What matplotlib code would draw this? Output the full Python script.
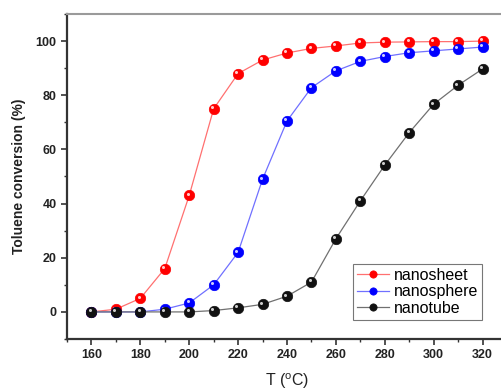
import matplotlib
matplotlib.use("Agg")
import matplotlib.pyplot as plt
import matplotlib.transforms as mtransforms
from matplotlib.ticker import MultipleLocator

plt.rcParams['font.family'] = ['Liberation Sans', 'DejaVu Sans']

T = [160, 170, 180, 190, 200, 210, 220, 230, 240, 250, 260, 270, 280, 290, 300, 310, 320]
nanosheet = [0, 1, 5, 16, 43, 75, 88, 93, 95.6, 97.3, 98.2, 99.3, 99.6, 99.7, 99.8, 99.8, 100]
nanosphere = [0, 0, 0, 1, 3.3, 10, 22, 49, 70.5, 82.8, 89, 92.5, 94.3, 95.7, 96.4, 97.1, 97.8]
nanotube = [0, 0, 0, 0, 0, 0.5, 1.5, 2.8, 5.8, 11, 27, 41, 54.2, 66.2, 76.7, 83.7, 89.7]

series = [
    ("nanosheet", nanosheet, "#ff0000", "#ff7070"),
    ("nanosphere", nanosphere, "#0000ff", "#7070ff"),
    ("nanotube", nanotube, "#111111", "#707070"),
]

fig = plt.figure(figsize=(5.01, 3.92), dpi=100)
ax = fig.add_axes([67/501, 1-339/392, 440/501, 325/392])

hl = mtransforms.ScaledTranslation(-1.2/72, 1.2/72, fig.dpi_scale_trans)
for name, vals, mc, lc in series:
    ax.plot(T, vals, '-', color=lc, lw=0.9, marker='o', ms=7.5, mfc=mc, mec=mc,
            mew=0.5, label=name)
    ax.plot(T, vals, 'o', ls='none', ms=2.2, mfc='white', mec='none', alpha=0.8,
            transform=ax.transData + hl)

ax.set_xlim(150, 330)
ax.set_ylim(-10, 110)
ax.xaxis.set_major_locator(MultipleLocator(20))
ax.xaxis.set_minor_locator(MultipleLocator(10))
ax.yaxis.set_major_locator(MultipleLocator(20))
ax.yaxis.set_minor_locator(MultipleLocator(10))
ax.tick_params(which='major', direction='out', length=4, width=1.2, labelsize=9, color='#333333')
ax.tick_params(which='minor', direction='out', length=2.5, width=1.0, color='#333333')
for lab in ax.get_xticklabels() + ax.get_yticklabels():
    lab.set_fontweight('bold')
    lab.set_color('#222222')

for s in ['left', 'bottom']:
    ax.spines[s].set_linewidth(1.6)
    ax.spines[s].set_color('#333333')
ax.spines['top'].set_linewidth(1.5)
ax.spines['top'].set_color('#9a9a9a')
ax.spines['right'].set_visible(False)

ax.set_ylabel('Toluene conversion (%)', fontsize=10, fontweight='bold', color='#222222', labelpad=7)
ax.set_xlabel('T ($^{\\mathregular{o}}$C)', fontsize=11.5, color='#222222', labelpad=7)

leg = ax.legend(loc='lower right', fontsize=11.5, frameon=True, fancybox=False,
                borderpad=0.25, handlelength=2.0, handletextpad=0.3, labelspacing=0.1,
                borderaxespad=0, edgecolor='#555555', markerscale=0.7)
leg.set_bbox_to_anchor(((482-67)/440, (339-320)/325), transform=ax.transAxes)
leg.get_frame().set_linewidth(0.8)

fig.savefig('out.png', dpi=100)
